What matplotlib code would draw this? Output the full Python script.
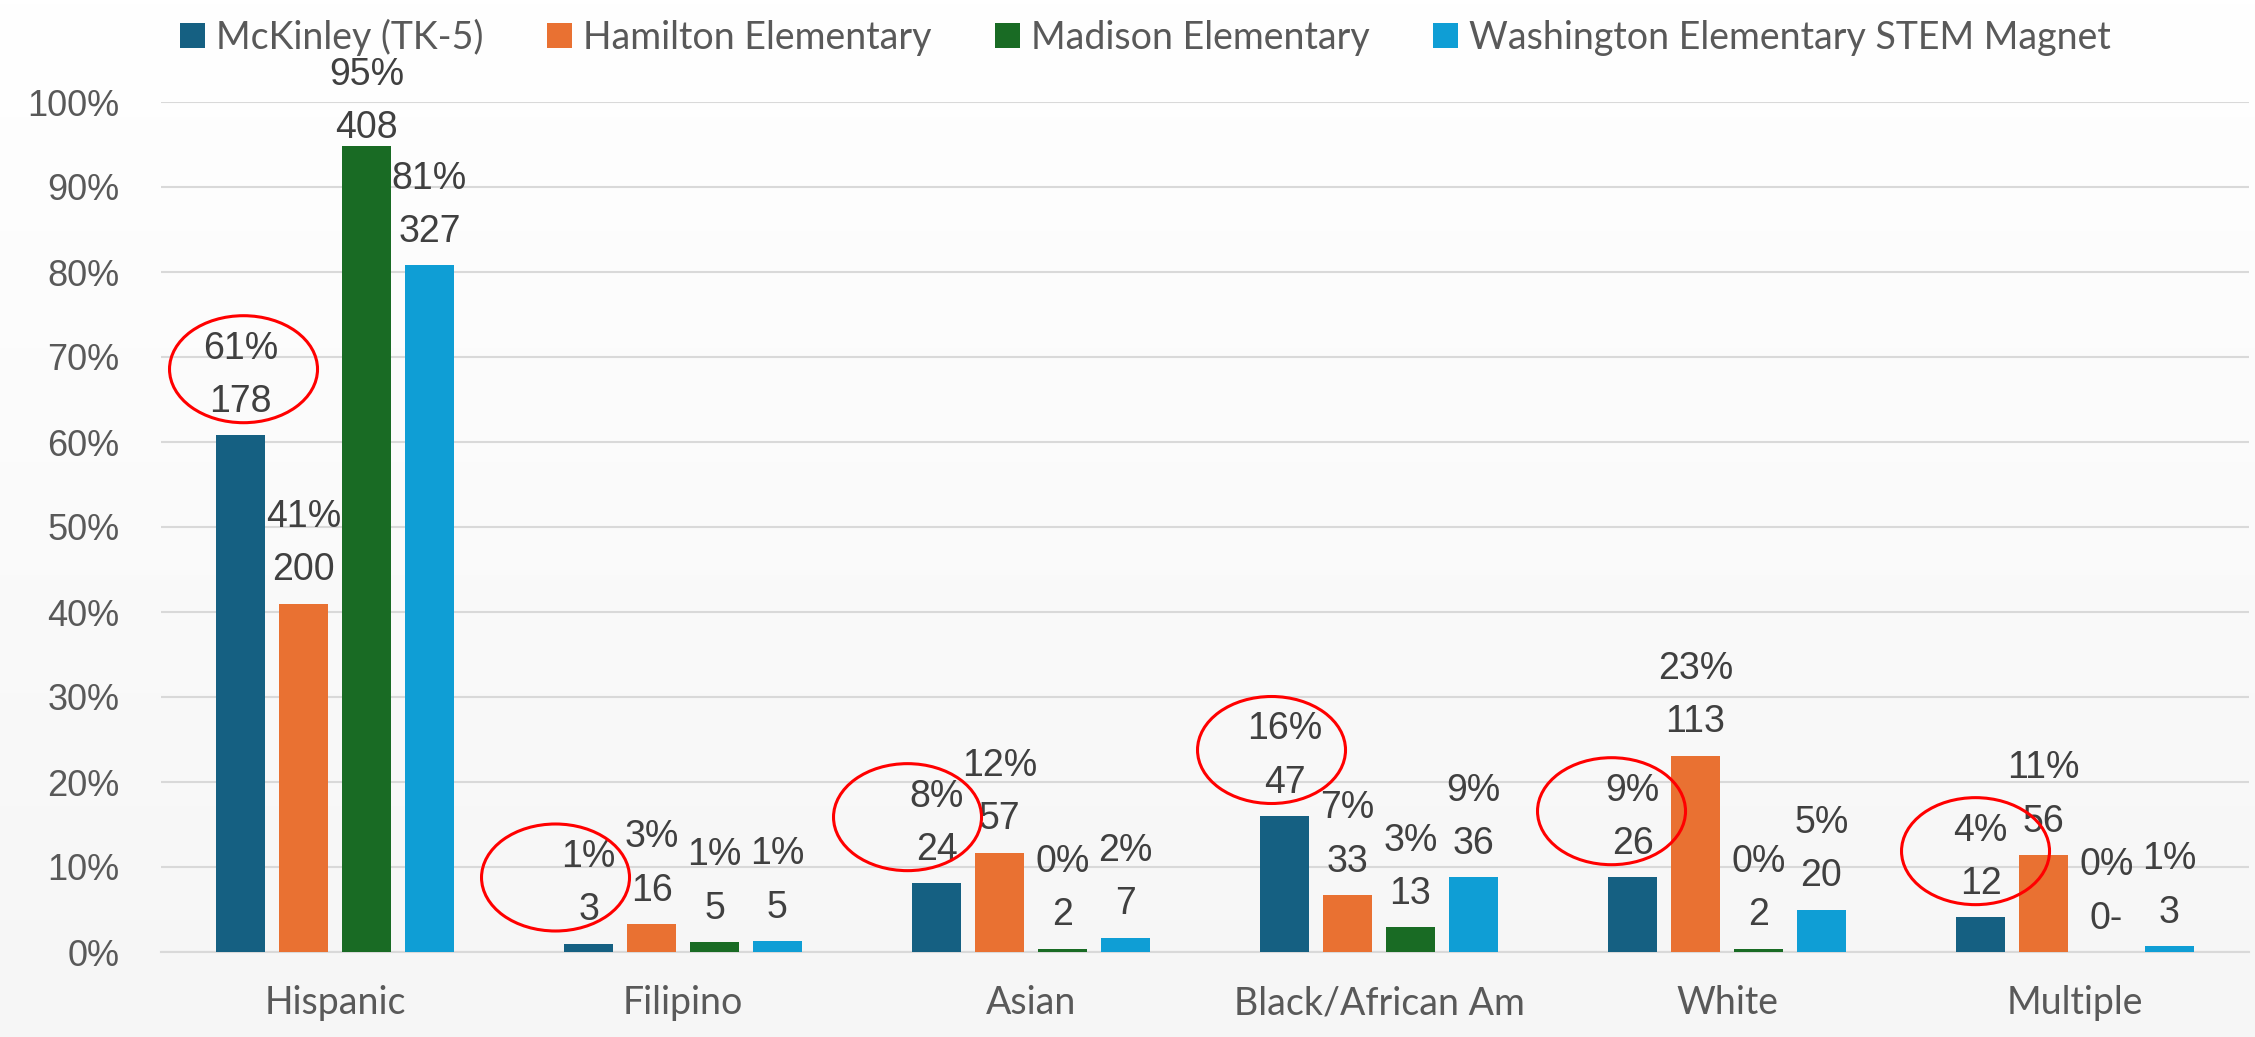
import numpy as np
import matplotlib
matplotlib.use("Agg")
import matplotlib.pyplot as plt
from matplotlib.patches import Ellipse, Patch
from matplotlib.transforms import ScaledTranslation
from matplotlib.colors import LinearSegmentedColormap

# Data
categories = ["Hispanic", "Filipino", "Asian", "Black/African Am", "White", "Multiple"]
schools = ["McKinley (TK-5)", "Hamilton Elementary", "Madison Elementary",
           "Washington Elementary STEM Magnet"]

# share of each school's students (%)
mckinley_pct = [60.8, 1.0, 8.1, 16.0, 8.8, 4.1]
hamilton_pct = [41.0, 3.3, 11.7, 6.7, 23.1, 11.4]
madison_pct = [94.8, 1.2, 0.4, 2.9, 0.4, 0.0]
washington_pct = [80.8, 1.3, 1.7, 8.8, 5.0, 0.7]

# student counts shown under the percentages
mckinley_n = ["178", "3", "24", "47", "26", "12"]
hamilton_n = ["200", "16", "57", "33", "113", "56"]
madison_n = ["408", "5", "2", "13", "2", "0-"]
washington_n = ["327", "5", "7", "36", "20", "3"]

colors = ["#156082", "#E97132", "#196B24", "#0F9ED5"]

all_pct = [mckinley_pct, hamilton_pct, madison_pct, washington_pct]
all_n = [mckinley_n, hamilton_n, madison_n, washington_n]

label_font = "Liberation Sans"
cat_font = "Lato"

fig = plt.figure(figsize=(22.55, 10.37), dpi=100)

# light gradient background
bg = fig.add_axes([0, 0, 1, 1], zorder=-2)
grad = np.linspace(0, 1, 256).reshape(-1, 1)
cmap = LinearSegmentedColormap.from_list("bg", ["#FFFFFF", "#F6F6F6"])
bg.imshow(grad, aspect="auto", cmap=cmap, extent=[0, 1, 0, 1], origin="upper")
bg.axis("off")

ax = fig.add_axes([161 / 2255, 85 / 1037, 2088 / 2255, 850 / 1037])
ax.patch.set_alpha(0)

x = np.arange(len(categories))
width = 0.141
step = 0.181

for i, (pct, n) in enumerate(zip(all_pct, all_n)):
    pos = x + (i - 1.5) * step
    ax.bar(pos, pct, width, color=colors[i], zorder=3, label=schools[i])
    for xp, v, cnt in zip(pos, pct, n):
        # labels near the top get pushed down to stay under the legend
        dy = 11 if v < 90 else 0
        ax.annotate(f"{v:.0f}%\n{cnt}", (xp, v), xytext=(0, dy),
                    textcoords="offset points", ha="center", va="bottom",
                    fontsize=27, family=label_font, color="#404040",
                    linespacing=1.62, zorder=4, annotation_clip=False)

# red circles around McKinley labels
circle_dx = [0.03, -0.33, -0.29, -0.13, -0.21, -0.05]
for xi, v, dx in zip(x - 1.5 * step, mckinley_pct, circle_dx):
    tr = fig.dpi_scale_trans + ScaledTranslation(xi, v, ax.transData)
    ax.add_patch(Ellipse((dx, 0.66), 1.48, 1.07, transform=tr, fill=False,
                         edgecolor="#FF0000", lw=2.2, zorder=5, clip_on=False))

ax.set_xlim(-0.5, len(categories) - 0.5)
ax.set_ylim(0, 100)
ax.set_yticks(np.arange(0, 101, 10))
ax.set_yticklabels([f"{t}%" for t in range(0, 101, 10)], family=label_font,
                   fontsize=26, color="#595959")
ax.set_xticks(x)
ax.set_xticklabels(categories, family=cat_font, fontsize=27, color="#595959")
ax.tick_params(axis="y", length=0, pad=30)
ax.tick_params(axis="x", length=0, pad=24)
ax.grid(axis="y", color="#D9D9D9", lw=1.5, zorder=0)
for s in ["top", "right", "left"]:
    ax.spines[s].set_visible(False)
ax.spines["bottom"].set_color("#D9D9D9")
ax.spines["bottom"].set_linewidth(1.5)

handles = [Patch(facecolor=c) for c in colors]
leg = fig.legend(handles, schools, loc="upper center", bbox_to_anchor=(0.508, 1.0),
                 ncol=4, frameon=False, prop={"family": cat_font, "size": 27},
                 handlelength=0.65, handleheight=0.65, handletextpad=0.3,
                 columnspacing=1.7, borderaxespad=0.1)
for t in leg.get_texts():
    t.set_color("#595959")

fig.savefig("out.png", dpi=100)
